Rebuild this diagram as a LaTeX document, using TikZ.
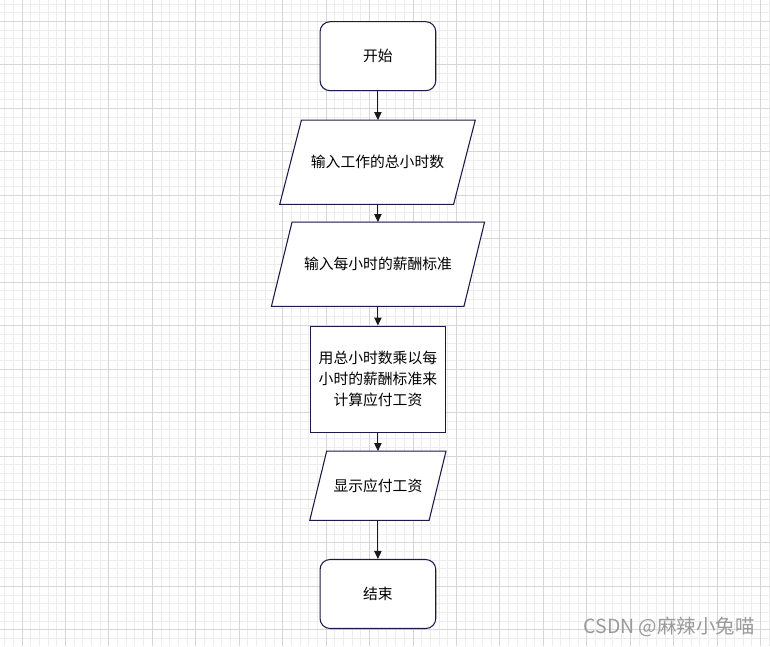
\documentclass[tikz,border=0pt]{standalone}
\usepackage{fontspec}
\newfontfamily\cjk{Noto Sans CJK SC}
\usetikzlibrary{arrows.meta}
\definecolor{minorgrid}{HTML}{EDEDED}
\definecolor{majorgrid}{HTML}{D6D6D6}
\definecolor{edgec}{HTML}{1B1B48}
\definecolor{wmgray}{HTML}{9A9A9A}
\begin{document}
\begin{tikzpicture}[x=0.75pt,y=-0.75pt,
  shapeline/.style={draw=edgec,line width=0.8pt,fill=white},
  term/.style={shapeline,rounded corners=7.5pt,minimum width=115.7*0.75pt,minimum height=69*0.75pt,inner sep=0pt},
  boxbase/.style={draw=none,inner sep=0pt},
  txt/.style={font=\cjk\fontsize{11.1}{15.75}\selectfont,align=center,text=black,inner sep=0pt},
  arr/.style={draw=black!90,line width=0.8pt,-{Triangle[length=6pt,width=5.5pt]}}
]
\useasboundingbox (0,0) rectangle (770,646);
\fill[white] (0,0) rectangle (770,646);
\begin{scope}
\clip (0,0) rectangle (770,646);
\foreach \i in {-3,...,88} \draw[minorgrid,line width=0.75pt] ({22+8.69*\i},0) -- ({22+8.69*\i},646);
\foreach \j in {-3,...,73} \draw[minorgrid,line width=0.75pt] (0,{21.5+8.69*\j}) -- (770,{21.5+8.69*\j});
\foreach \i in {-1,...,17} \draw[majorgrid,line width=0.75pt] ({22+43.45*\i},0) -- ({22+43.45*\i},646);
\foreach \j in {-1,...,14} \draw[majorgrid,line width=0.75pt] (0,{21.5+43.45*\j}) -- (770,{21.5+43.45*\j});
\end{scope}

% start
\node[term,txt] (start) at (377.9,56.2) {开始};

% input 1
\node[boxbase,minimum width=195*0.75pt,minimum height=83.7*0.75pt] (in1) at (377.5,162.2) {};
\draw[shapeline] (in1.south west) -- ([xshift=21.7*0.75pt]in1.north west) -- (in1.north east) -- ([xshift=-21.7*0.75pt]in1.south east) -- cycle;
\node[txt] (in1t) at (in1.center) {输入工作的总小时数};

% input 2
\node[boxbase,minimum width=212.6*0.75pt,minimum height=83.7*0.75pt] (in2) at (378,264.2) {};
\draw[shapeline] (in2.south west) -- ([xshift=20.6*0.75pt]in2.north west) -- (in2.north east) -- ([xshift=-20.6*0.75pt]in2.south east) -- cycle;
\node[txt] (in2t) at (in2.center) {输入每小时的薪酬标准};

% process
\node[shapeline,txt,minimum width=135.7*0.75pt,minimum height=106.3*0.75pt] (proc) at (377.9,379.2) {用总小时数乘以每\\小时的薪酬标准来\\计算应付工资};

% output
\node[boxbase,minimum width=135.7*0.75pt,minimum height=68.7*0.75pt] (out) at (377.9,485.7) {};
\draw[shapeline] (out.south west) -- ([xshift=16.9*0.75pt]out.north west) -- (out.north east) -- ([xshift=-16.9*0.75pt]out.south east) -- cycle;
\node[txt] (outt) at (out.center) {显示应付工资};

% end
\node[term,txt] (stop) at (377.9,594) {结束};

% connectors
\draw[arr] (start.south) -- (start.south |- in1.north);
\draw[arr] (in1.south -| start.south) -- (start.south |- in2.north);
\draw[arr] (in2.south -| start.south) -- (start.south |- proc.north);
\draw[arr] (proc.south) -- (proc.south |- out.north);
\draw[arr] (out.south) -- (out.south |- stop.north);

% watermark
\node[font=\cjk\fontsize{14.6}{17}\selectfont,text=wmgray,anchor=east,inner sep=0pt] (wm) at (755,627) {CSDN @麻辣小兔喵};
\end{tikzpicture}
\end{document}
